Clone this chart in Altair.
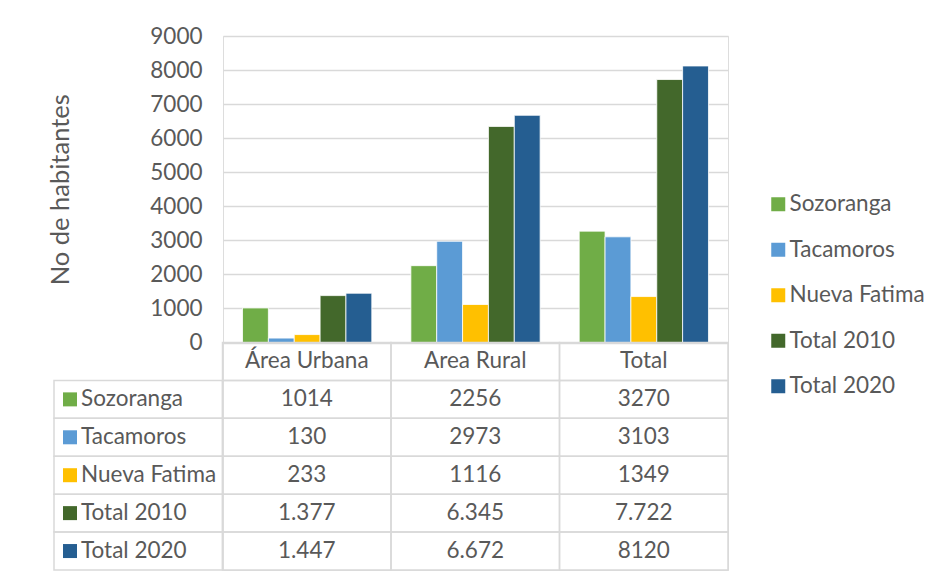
import altair as alt
import pandas as pd

# ---------------- data ----------------
categories = ["Área Urbana", "Area Rural", "Total"]
series = ["Sozoranga", "Tacamoros", "Nueva Fatima", "Total 2010", "Total 2020"]

sozoranga = [1014, 2256, 3270]
tacamoros = [130, 2973, 3103]
nueva_fatima = [233, 1116, 1349]
total_2010 = [1377, 6345, 7722]
total_2020 = [1447, 6672, 8120]

# values exactly as printed in the data table
sozoranga_txt = ["1014", "2256", "3270"]
tacamoros_txt = ["130", "2973", "3103"]
nueva_fatima_txt = ["233", "1116", "1349"]
total_2010_txt = ["1.377", "6.345", "7.722"]
total_2020_txt = ["1.447", "6.672", "8120"]

colors = ["#70AD47", "#5B9BD5", "#FFC000", "#43682B", "#255E91"]
y_ticks = [0, 1000, 2000, 3000, 4000, 5000, 6000, 7000, 8000, 9000]

values = [sozoranga, tacamoros, nueva_fatima, total_2010, total_2020]
texts = [sozoranga_txt, tacamoros_txt, nueva_fatima_txt, total_2010_txt, total_2020_txt]

bars_df = pd.DataFrame(
    [{"category": c, "series": s, "value": v[i]}
     for s, v in zip(series, values) for i, c in enumerate(categories)]
)

LBL = " "      # label column of the data table
HDR = "  "     # header row of the data table
x_dom = [LBL] + categories
y_dom = [HDR] + series

cells_df = pd.DataFrame(
    [{"col": c, "row": r} for r in y_dom for c in x_dom if not (r == HDR and c == LBL)]
)
header_df = pd.DataFrame([{"col": c, "row": HDR, "text": c} for c in categories])
value_df = pd.DataFrame(
    [{"col": c, "row": s, "text": t[i]}
     for s, t in zip(series, texts) for i, c in enumerate(categories)]
)
names_df = pd.DataFrame([{"col": LBL, "row": s, "series": s} for s in series])

# ---------------- styling ----------------
FONT = "Lato"
TXT = "#595959"
LINE = "#D9D9D9"
FS = 22.5
W = 505
H = 534
Y0 = 306.5

color_scale = alt.Scale(domain=series, range=colors)
legend = alt.Legend(
    orient="none", legendX=544, legendY=157, title=None,
    symbolType="square", symbolSize=196, symbolStrokeWidth=0,
    labelFont=FONT, labelFontSize=FS, labelColor=TXT,
    labelOffset=0, rowPadding=22.5,
)

xb = alt.Scale(domain=categories, paddingInner=0.232, paddingOuter=0.116)
yb = alt.Scale(domain=[0, 9000], range=[Y0, 0], nice=False)
xt = alt.Scale(domain=x_dom, range=[-169, W], paddingInner=0, paddingOuter=0)
yt = alt.Scale(domain=y_dom, range=[Y0, H], paddingInner=0, paddingOuter=0)

bars = alt.Chart(bars_df).mark_bar(stroke="white", strokeWidth=0.8).encode(
    x=alt.X("category:N", scale=xb, axis=None, sort=categories),
    xOffset=alt.XOffset("series:N", sort=series, scale=alt.Scale(domain=series, paddingInner=0, paddingOuter=0)),
    y=alt.Y(
        "value:Q", scale=yb,
        axis=alt.Axis(
            values=y_ticks, format="d", grid=True, gridColor=LINE, gridWidth=1.5,
            domain=False, ticks=False, labelPadding=21,
            labelFont=FONT, labelFontSize=FS, labelColor=TXT,
            title="No de habitantes", titleFont=FONT, titleFontSize=25.5,
            titleFontWeight="normal", titleColor=TXT, titlePadding=76,
        ),
    ),
    color=alt.Color("series:N", scale=color_scale, sort=series, legend=legend),
)

tx = alt.X("col:N", scale=xt, axis=None, sort=x_dom)
ty = alt.Y("row:N", scale=yt, axis=None, sort=y_dom)

cells = alt.Chart(cells_df).mark_rect(
    fill="white", fillOpacity=0, stroke=LINE, strokeWidth=1.5
).encode(x=tx, y=ty)

header = alt.Chart(header_df).mark_text(
    font=FONT, fontSize=FS, color=TXT, baseline="middle"
).encode(x=tx, y=ty, text="text:N")

vals = alt.Chart(value_df).mark_text(
    font=FONT, fontSize=FS, color=TXT, baseline="middle"
).encode(x=tx, y=ty, text="text:N")

names = alt.Chart(names_df).mark_text(
    font=FONT, fontSize=FS, color=TXT, baseline="middle", align="left", dx=27
).encode(
    x=alt.X("col:N", scale=xt, axis=None, sort=x_dom, bandPosition=0),
    y=ty, text="series:N",
)

keys = alt.Chart(names_df).mark_square(size=196, opacity=1, xOffset=16).encode(
    x=alt.X("col:N", scale=xt, axis=None, sort=x_dom, bandPosition=0),
    y=ty,
    color=alt.Color("series:N", scale=color_scale, sort=series, legend=legend),
)

table = alt.layer(cells, header, vals, names, keys)

chart = alt.layer(bars, table).resolve_scale(
    x="independent", y="independent"
).properties(
    width=W, height=H,
    padding={"left": 40, "top": 17, "right": 5, "bottom": 5},
).configure_view(stroke=None).configure(background="white")

chart.save("out.html", embed_options={"renderer": "svg", "actions": False})
